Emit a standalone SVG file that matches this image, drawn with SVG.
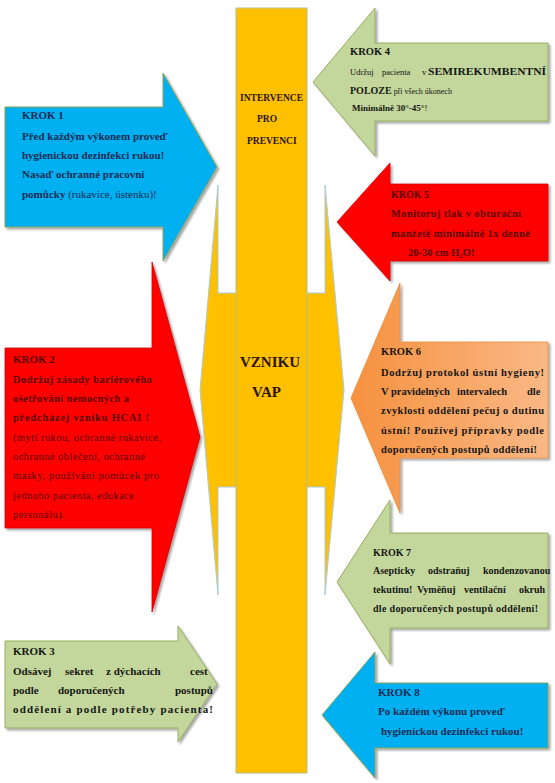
<svg xmlns="http://www.w3.org/2000/svg" width="555" height="783" viewBox="0 0 555 783">
<defs>
<filter id="sh" x="-10%" y="-10%" width="130%" height="130%">
<feDropShadow dx="2" dy="2" stdDeviation="1.2" flood-color="#000" flood-opacity="0.35"/>
</filter>
<linearGradient id="og" x1="0" y1="0" x2="1" y2="0">
<stop offset="0" stop-color="#f6913f"/>
<stop offset="1" stop-color="#fab885"/>
</linearGradient>
<style>
text{font-family:"Liberation Serif","Times New Roman",serif}
.b{font-weight:bold}
.nv{fill:#1b2b55}
.dr{fill:#560000}
.bk{fill:#161616}
.ce{fill:#2b1400}
.blue{fill:#00b0f0;stroke:#8aa35a;stroke-width:1;filter:url(#sh)}
.red{fill:#ff0000;stroke:#d00000;stroke-width:0.8;filter:url(#sh)}
.green{fill:#c3d69b;stroke:#95ae62;stroke-width:1;filter:url(#sh)}
.orange{fill:url(#og);stroke:#e98a3c;stroke-width:0.8;filter:url(#sh)}
</style>
</defs>
<rect width="555" height="783" fill="#fff"/>

<g id="krok1">
<path class="blue" d="M5,107 H163 V73 L217,167 L163,261 V227 H5 Z"/>
<g class="nv b" font-size="11">
<text x="22" y="119">KROK 1</text>
<text x="22" y="140">Před každým výkonem proveď</text>
<text x="22" y="159">hygienickou dezinfekci rukou!</text>
<text x="22" y="178">Nasaď ochranné pracovní</text>
<text x="22" y="198">pomůcky<tspan font-weight="normal"> (rukavice, ústenku)!</tspan></text>
</g>
</g>

<g id="krok4">
<path class="green" d="M548,43 H375 V8 L313,82 L375,156 V121 H548 Z"/>
<g class="bk">
<text class="b" x="350" y="55" font-size="10.5">KROK 4</text>
<text x="350" y="75" font-size="8.5">Udržuj</text>
<text x="382" y="75" font-size="8.5">pacienta</text>
<text x="422" y="75" font-size="8.5">v</text>
<text class="b" x="428" y="75" font-size="10" textLength="118" lengthAdjust="spacingAndGlyphs">SEMIREKUMBENTNÍ</text>
<text class="b" x="350" y="94" font-size="10">POLOZE<tspan font-weight="normal" font-size="8"> při všech úkonech</tspan></text>
<text class="b" x="352" y="111" font-size="9">Minimálně 30°-45°<tspan font-weight="normal">!</tspan></text>
</g>
</g>

<g id="krok5">
<path class="red" d="M548,184 H390 V163 L337,222 L390,281 V261 H548 Z"/>
<g class="dr b" font-size="10.5">
<text x="391" y="198" font-size="10">KROK 5</text>
<text x="391" y="217" textLength="130">Monitoruj tlak v obturační</text>
<text x="391" y="237" textLength="139">manžetě minimálně 1x denně</text>
<text x="408" y="256">20-30 cm H<tspan font-size="7" dy="1.5">2</tspan><tspan dy="-1.5">O!</tspan></text>
</g>
</g>

<g id="krok2">
<path class="red" d="M5,348 H152 V262 L200,437 L152,612 V528 H5 Z"/>
<g class="dr" font-size="10.5">
<text class="b" x="13" y="363" font-size="11">KROK 2</text>
<text class="b" x="13" y="383" textLength="139">Dodržuj zásady bariérového</text>
<text class="b" x="13" y="402" textLength="116">ošetřování nemocných a</text>
<text class="b" x="13" y="421" textLength="136">předcházej vzniku HCAI !</text>
<text x="13" y="441" textLength="148">(mytí rukou, ochranné rukavice,</text>
<text x="13" y="460" textLength="132">ochranné oblečení, ochranné</text>
<text x="13" y="479" textLength="146">masky, používání pomůcek pro</text>
<text x="13" y="499" textLength="121">jednoho pacienta, edukace</text>
<text x="13" y="518" textLength="52">personálu).</text>
</g>
</g>

<g id="krok6">
<path class="orange" d="M548,342 H400 V283 L351,398 L400,513 V458 H548 Z"/>
<g class="bk b" font-size="10.5">
<text x="381" y="355">KROK 6</text>
<text x="381" y="376" textLength="163">Dodržuj protokol ústní hygieny!</text>
<text y="395"><tspan x="381">V pravidelných</tspan><tspan x="457">intervalech</tspan><tspan x="527">dle</tspan></text>
<text x="381" y="414" textLength="163">zvyklosti oddělení pečuj o dutinu</text>
<text x="381" y="434" textLength="163">ústní! Používej přípravky podle</text>
<text x="381" y="453" textLength="156">doporučených postupů oddělení!</text>
</g>
</g>

<g id="krok7">
<path class="green" d="M548,533 H390 V500 L337,582 L390,664 V628 H548 Z"/>
<g class="bk b" font-size="10">
<text x="373" y="556">KROK 7</text>
<text y="574"><tspan x="373">Asepticky</tspan><tspan x="428">odstraňuj</tspan><tspan x="483">kondenzovanou</tspan></text>
<text y="593"><tspan x="373">tekutinu!</tspan><tspan x="417">Vyměňuj</tspan><tspan x="464">ventilační</tspan><tspan x="519">okruh</tspan></text>
<text x="373" y="612" textLength="165">dle doporučených postupů oddělení!</text>
</g>
</g>

<g id="krok3">
<path class="green" d="M5,641 H178 V626 L217,684 L178,742 V728 H5 Z"/>
<g class="bk b" font-size="11">
<text x="13" y="655">KROK 3</text>
<text y="675"><tspan x="13">Odsávej</tspan><tspan x="65">sekret</tspan><tspan x="106">z dýchacích</tspan><tspan x="190">cest</tspan></text>
<text y="694"><tspan x="13">podle</tspan><tspan x="58">doporučených</tspan><tspan x="175">postupů</tspan></text>
<text x="13" y="713" textLength="200">oddělení a podle potřeby pacienta!</text>
</g>
</g>

<g id="krok8">
<path class="blue" d="M548,683 H375 V652 L322,715 L375,778 V748 H548 Z"/>
<g class="nv b" font-size="11">
<text x="378" y="696">KROK 8</text>
<text x="378" y="715">Po každém výkonu proveď</text>
<text x="381" y="735">hygienickou dezinfekci rukou!</text>
</g>
</g>

<g id="center">
<path d="M218,185 L218,293 L325,293 L325,185 L344,390 L325,595 L325,487 L218,487 L218,595 L200,390 Z" fill="#ffc000" stroke="#a9cbe0" stroke-width="1"/>
<rect x="236" y="8" width="71" height="765" fill="#ffc000" stroke="#b3bd92" stroke-width="1"/>
<g class="ce b">
<text x="240" y="101" font-size="9.5">INTERVENCE</text>
<text x="257" y="122" font-size="9.5">PRO</text>
<text x="247" y="144" font-size="9.5">PREVENCI</text>
<text x="240" y="367" font-size="15">VZNIKU</text>
<text x="252" y="397" font-size="15">VAP</text>
</g>
</g>
</svg>
